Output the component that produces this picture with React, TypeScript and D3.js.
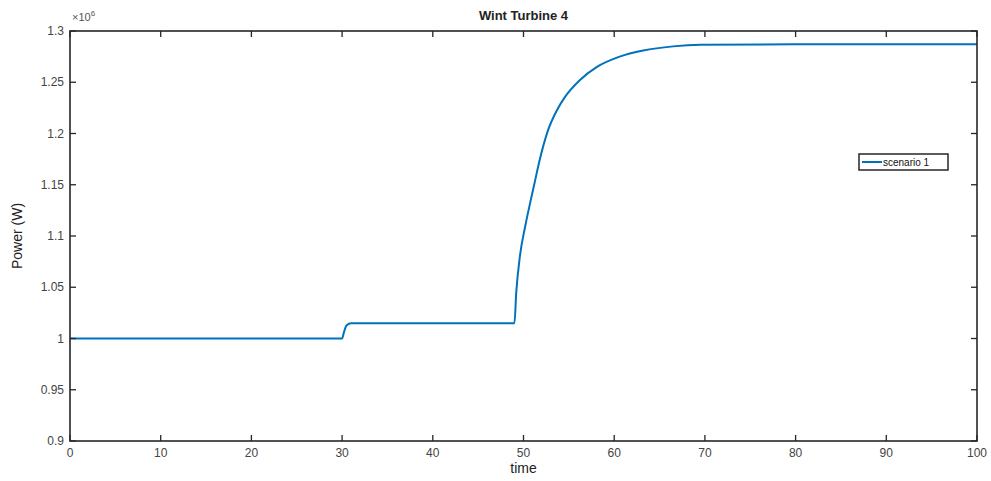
import React from "react";
import * as d3 from "d3";

const timeValues = [0, 30, 30.2, 30.5, 31, 49, 49.2, 49.6, 50.2, 50.8, 51.3, 51.7, 52.7, 53.7, 54.6, 56.2, 58.1, 60.6, 63.2, 66.5, 69.5, 80, 100];
const powerValues = [1.0, 1.0, 1.006, 1.013, 1.015, 1.015, 1.045, 1.08, 1.11, 1.135, 1.155, 1.171, 1.203, 1.223, 1.236, 1.252, 1.265, 1.275, 1.281, 1.285, 1.2865, 1.287, 1.287];
const xTicks = [0, 10, 20, 30, 40, 50, 60, 70, 80, 90, 100];
const yTicks = [0.9, 0.95, 1, 1.05, 1.1, 1.15, 1.2, 1.25, 1.3];
const seriesName = "scenario 1";
const titleText = "Wint Turbine 4";
const xLabel = "time";
const yLabel = "Power (W)";

export default function App() {
  const W = 991, H = 481;
  const left = 70, right = 977, top = 31, bottom = 441;
  const x = d3.scaleLinear().domain([0, 100]).range([left, right]);
  const y = d3.scaleLinear().domain([0.9, 1.3]).range([bottom, top]);
  const data = timeValues.map((t, i) => [t, powerValues[i]] as [number, number]);
  const line = d3.line<[number, number]>().x(d => x(d[0])).y(d => y(d[1])).curve(d3.curveMonotoneX);
  const axisColor = "#262626";
  const font = "'Liberation Sans', Arial, sans-serif";
  const tl = 6;
  return (
    <svg width={W} height={H} style={{ position: "absolute", left: 0, top: 0, display: "block", background: "#fff" }} fontFamily={font}>
      <rect x={0} y={0} width={W} height={H} fill="#fff" />
      <path d={line(data) || ""} fill="none" stroke="#0072BD" strokeWidth={2} />
      {xTicks.map(t => (
        <g key={"x" + t}>
          <line x1={x(t)} x2={x(t)} y1={bottom} y2={bottom - tl} stroke={axisColor} strokeWidth={1.3} />
          <line x1={x(t)} x2={x(t)} y1={top} y2={top + tl} stroke={axisColor} strokeWidth={1.3} />
          <text x={x(t)} y={bottom + 16} textAnchor="middle" fontSize={12} fill="#444">{t}</text>
        </g>
      ))}
      {yTicks.map(t => (
        <g key={"y" + t}>
          <line x1={left} x2={left + tl} y1={y(t)} y2={y(t)} stroke={axisColor} strokeWidth={1.3} />
          <line x1={right} x2={right - tl} y1={y(t)} y2={y(t)} stroke={axisColor} strokeWidth={1.3} />
          <text x={left - 6} y={y(t) + 4} textAnchor="end" fontSize={12} fill="#444">{String(t)}</text>
        </g>
      ))}
      <rect x={left} y={top} width={right - left} height={bottom - top} fill="none" stroke={axisColor} strokeWidth={1.6} />
      <text x={72} y={21} fontSize={11} fill="#555">×10<tspan dy={-5} fontSize={8}>6</tspan></text>
      <text x={(left + right) / 2} y={20} textAnchor="middle" fontSize={13} fontWeight="bold" fill="#222">{titleText}</text>
      <text x={(left + right) / 2} y={473} textAnchor="middle" fontSize={14} fill="#222">{xLabel}</text>
      <text transform={`translate(22,${(top + bottom) / 2}) rotate(-90)`} textAnchor="middle" fontSize={14} fill="#222">{yLabel}</text>
      <rect x={859} y={154} width={89} height={16} fill="#fff" stroke={axisColor} strokeWidth={1.5} />
      <line x1={862} x2={882} y1={162} y2={162} stroke="#0072BD" strokeWidth={2} />
      <text x={883} y={166} fontSize={10} fill="#111">{seriesName}</text>
    </svg>
  );
}
